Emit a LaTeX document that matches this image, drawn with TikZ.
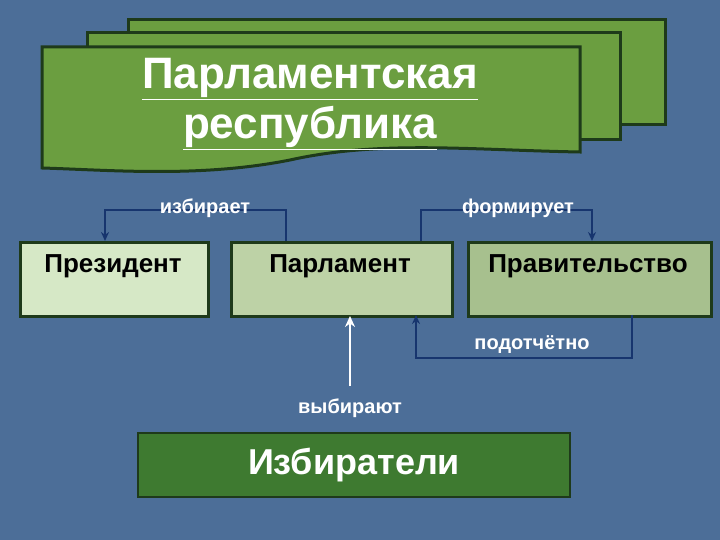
\documentclass[tikz,border=0pt]{standalone}
\usepackage{fontspec}
\setmainfont{Liberation Sans}
\usetikzlibrary{arrows.meta}
\definecolor{bg}{HTML}{4C6E98}
\definecolor{card}{HTML}{6B9E40}
\definecolor{cardline}{HTML}{1E3A1A}
\definecolor{navy}{HTML}{17356E}
\definecolor{presc}{HTML}{D6E8C6}
\definecolor{parlc}{HTML}{BDD2A6}
\definecolor{govc}{HTML}{A7C08E}
\definecolor{electc}{HTML}{3E7A30}
\begin{document}
\begin{tikzpicture}[x=1pt,y=-1pt,
  cardst/.style={fill=card,draw=cardline,line width=3pt},
  boxst/.style={draw=cardline,line width=2.5pt,minimum height=74pt,anchor=north west,inner sep=0pt},
  lbl/.style={text=white,font=\bfseries\fontsize{20}{22}\selectfont},
  conn/.style={draw=navy,line width=2.5pt,-{Stealth[length=9pt,width=8pt]}}]
\fill[bg] (0,0) rectangle (720,540);
\draw[cardst] (128,20) rectangle (665,125);
\draw[cardst] (87,33) rectangle (620,140);
\draw[cardst] (42,47) -- (580,47) -- (580,152) .. controls (470,150) and (380,140) .. (290,160) .. controls (200,178) and (110,170) .. (42,168) -- cycle;
\node[text=white,font=\bfseries\fontsize{44}{50}\selectfont,align=center] (title) at (310,104) {\underline{Парламентская}\\\underline{республика}};
\node[boxst,fill=presc,minimum width=188pt] (pres) at (19,241) {};
\node[boxst,fill=parlc,minimum width=221pt] (parl) at (230,241) {};
\node[boxst,fill=govc,minimum width=243pt] (gov) at (467,241) {};
\node[font=\bfseries\fontsize{26}{28}\selectfont] (tpres) at (113,266) {Президент};
\node[font=\bfseries\fontsize{26}{28}\selectfont] (tparl) at (340,266) {Парламент};
\node[font=\bfseries\fontsize{26}{28}\selectfont] (tgov) at (588,266) {Правительство};
\node[draw=cardline,line width=2.5pt,fill=electc,minimum width=432pt,minimum height=64pt,text=white,font=\bfseries\fontsize{36}{40}\selectfont] (elect) at (354,465) {Избиратели};
\coordinate (a1) at (286,241);
\coordinate (a2) at (105,241);
\draw[conn] (a1) -- ++(0,-31) -| (a2);
\coordinate (b1) at (421,241);
\coordinate (b2) at (592,241);
\draw[conn] (b1) -- ++(0,-31) -| (b2);
\coordinate (c1) at (632,315);
\coordinate (c2) at (416,315);
\draw[conn] (c1) -- ++(0,43) -| (c2);
\coordinate (d1) at (350,386);
\coordinate (d2) at (350,316);
\draw[draw=white,line width=2.5pt,-{Stealth[length=11pt,width=10pt]}] (d1) -- (d2);
\node[lbl] (l1) at (205,208) {избирает};
\node[lbl] (l2) at (518,208) {формирует};
\node[lbl] (l3) at (532,345) {подотчётно};
\node[lbl] (l4) at (350,408) {выбирают};
\end{tikzpicture}
\end{document}
